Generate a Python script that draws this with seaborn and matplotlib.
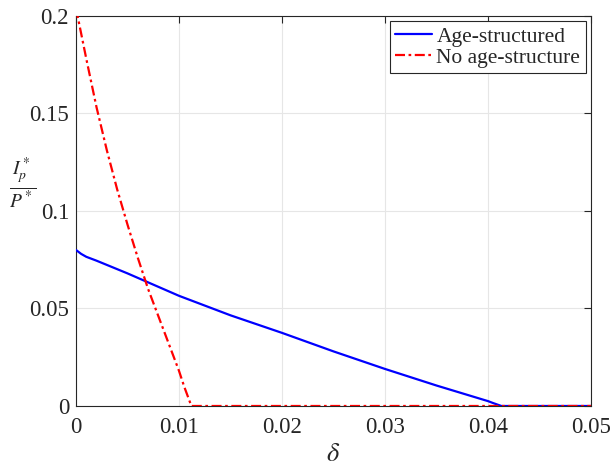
import numpy as np
import pandas as pd
import matplotlib
matplotlib.use("Agg")
import matplotlib.pyplot as plt
import seaborn as sns

# Data
delta_age = [0.0, 0.0005, 0.001, 0.002, 0.005, 0.01, 0.015, 0.02, 0.025, 0.03, 0.035, 0.04, 0.0405, 0.0413, 0.045, 0.05]
ratio_age = [0.080, 0.078, 0.0765, 0.0745, 0.068, 0.0565, 0.0465, 0.0375, 0.028, 0.019, 0.0105, 0.0025, 0.0015, 0.0, 0.0, 0.0]

delta_noage = [0.0, 0.001, 0.002, 0.003, 0.004, 0.005, 0.006, 0.007, 0.008, 0.009, 0.010, 0.0105, 0.0112, 0.02, 0.03, 0.04, 0.05]
ratio_noage = [0.204, 0.178, 0.153, 0.131, 0.111, 0.093, 0.076, 0.060, 0.046, 0.032, 0.018, 0.010, 0.0, 0.0, 0.0, 0.0, 0.0]

labels = ["Age-structured", "No age-structure"]
xticks = [0, 0.01, 0.02, 0.03, 0.04, 0.05]
xticklabels = ["0", "0.01", "0.02", "0.03", "0.04", "0.05"]
yticks = [0, 0.05, 0.1, 0.15, 0.2]
yticklabels = ["0", "0.05", "0.1", "0.15", "0.2"]

sns.set_theme(style="white")
plt.rcParams["font.family"] = ["Liberation Serif", "DejaVu Serif"]
plt.rcParams["mathtext.fontset"] = "stix"

df_age = pd.DataFrame({"delta": delta_age, "ratio": ratio_age})
df_no = pd.DataFrame({"delta": delta_noage, "ratio": ratio_noage})

fig = plt.figure(figsize=(6.14, 4.65), dpi=100)
ax = fig.add_axes([0.1238, 0.1269, 0.8387, 0.8387])

sns.lineplot(data=df_age, x="delta", y="ratio", ax=ax, color="#0000ff", lw=1.6, label=labels[0], zorder=3)
sns.lineplot(data=df_no, x="delta", y="ratio", ax=ax, color="#ff0000", lw=1.6, label=labels[1], zorder=4)
ax.lines[1].set_linestyle((0, (4.5, 1.6, 1.2, 1.6)))

ax.set_xlim(0, 0.05)
ax.set_ylim(0, 0.2)
ax.set_xticks(xticks)
ax.set_xticklabels(xticklabels)
ax.set_yticks(yticks)
ax.set_yticklabels(yticklabels)
ax.tick_params(direction="in", length=5, width=0.8, labelsize=16.5, colors="#262626",
               top=True, right=True, pad=5)
ax.tick_params(axis="x", pad=8)
ax.grid(True, color="#e6e6e6", lw=0.8)
ax.set_axisbelow(True)
for s in ax.spines.values():
    s.set_color("#262626")
    s.set_linewidth(0.8)

ax.set_xlabel(r"$\delta$", fontsize=19, color="#262626", labelpad=4)
ax.set_ylabel(r"$\frac{I_p^*}{P^*}$", fontsize=20, rotation=0, color="#262626")
ax.yaxis.set_label_coords(-0.103, 0.50)

leg = ax.legend(loc="upper right", fontsize=15.5, frameon=True, fancybox=False,
                edgecolor="#262626", framealpha=1, handlelength=1.7,
                handletextpad=0.2, borderpad=0.25, labelspacing=0.05, borderaxespad=0.25)
leg.get_frame().set_linewidth(0.8)

fig.savefig("out.png", dpi=100)
